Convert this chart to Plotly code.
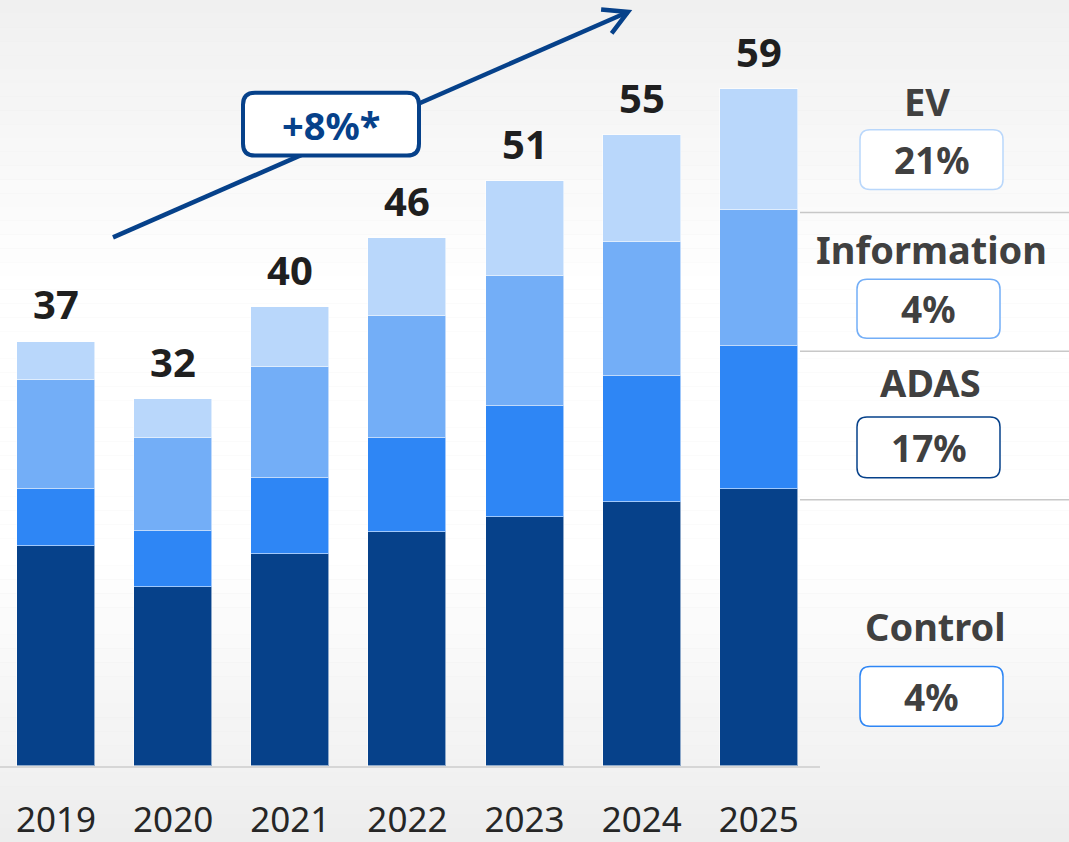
import plotly.graph_objects as go
import math

# ---------------- data ----------------
years = ["2019", "2020", "2021", "2022", "2023", "2024", "2025"]
control = [19.2, 15.6, 18.5, 20.4, 21.7, 23.0, 24.2]
adas = [5.0, 4.9, 6.6, 8.2, 9.7, 11.0, 12.4]
information = [9.5, 8.1, 9.7, 10.6, 11.3, 11.7, 11.9]
ev = [3.3, 3.4, 5.2, 6.8, 8.3, 9.3, 10.5]
totals = [37, 32, 40, 46, 51, 55, 59]
segments = ["EV", "Information", "ADAS", "Control"]
cagr = ["21%", "4%", "17%", "4%"]
overall_cagr = "+8%*"

# ---------------- styles ----------------
W, H = 1069, 842
HT = 830  # effective photographed height of the page
NAVY = "#06418A"
C_CONTROL = "#06418A"
C_ADAS = "#2E86F5"
C_INFO = "#73AEF7"
C_EV = "#B9D7FB"
FONT = "Noto Sans"


def X(px):
    return px / W


def Y(py):
    return 1 - py / HT


def rr_path(x0, y0, x1, y1, r):
    pts = [
        f"M {X(x0 + r)},{Y(y0)}",
        f"L {X(x1 - r)},{Y(y0)}",
        f"Q {X(x1)},{Y(y0)} {X(x1)},{Y(y0 + r)}",
        f"L {X(x1)},{Y(y1 - r)}",
        f"Q {X(x1)},{Y(y1)} {X(x1 - r)},{Y(y1)}",
        f"L {X(x0 + r)},{Y(y1)}",
        f"Q {X(x0)},{Y(y1)} {X(x0)},{Y(y1 - r)}",
        f"L {X(x0)},{Y(y0 + r)}",
        f"Q {X(x0)},{Y(y0)} {X(x0 + r)},{Y(y0)}",
        "Z",
    ]
    return " ".join(pts)


fig = go.Figure()
for name, vals, col in [("Control", control, C_CONTROL), ("ADAS", adas, C_ADAS),
                        ("Information", information, C_INFO), ("EV", ev, C_EV)]:
    fig.add_trace(go.Bar(
        x=years, y=vals, name=name, width=0.666,
        marker=dict(color=col, line=dict(color="rgba(255,255,255,0.55)", width=1)),
        hoverinfo="x+y+name",
    ))

shapes = []
# background gradient bands
def lerp(a, b, t):
    return int(round(a + (b - a) * t))

bands = 60
for i in range(bands):
    y0 = i * HT / bands
    y1 = (i + 1) * HT / bands
    ym = (y0 + y1) / 2
    if ym < 290:
        t = ym / 290
        v = lerp(240, 255, t)
    elif ym < 560:
        v = 255
    else:
        t = (ym - 560) / (842 - 560)
        v = lerp(255, 237, t)
    shapes.append(dict(type="rect", xref="paper", yref="paper", x0=0, x1=1,
                       y0=Y(y1), y1=Y(y0), fillcolor=f"rgb({v},{v},{v})",
                       line=dict(width=0), layer="below"))

# right separators
for sy in [213, 352, 501]:
    shapes.append(dict(type="line", xref="paper", yref="paper", x0=X(800), x1=1,
                       y0=Y(sy), y1=Y(sy), line=dict(color="#c8c8c8", width=1.5)))

# growth arrow
ax0, ay0, ax1, ay1 = 113, 238, 628, 12
shapes.append(dict(type="line", xref="paper", yref="paper", x0=X(ax0), y0=Y(ay0),
                   x1=X(ax1), y1=Y(ay1), line=dict(color=NAVY, width=4.5)))
ang = math.atan2(ay0 - ay1, ax0 - ax1)
arm = 27
a1 = (ax1 + arm * math.cos(ang + math.radians(29)), ay1 + arm * math.sin(ang + math.radians(29)))
a2 = (ax1 + arm * math.cos(ang - math.radians(29)), ay1 + arm * math.sin(ang - math.radians(29)))
shapes.append(dict(type="path", xref="paper", yref="paper",
                   path=f"M {X(a1[0])},{Y(a1[1])} L {X(ax1)},{Y(ay1)} L {X(a2[0])},{Y(a2[1])}",
                   line=dict(color=NAVY, width=4.5)))
# growth box
shapes.append(dict(type="path", xref="paper", yref="paper", path=rr_path(243, 93, 419, 156, 12),
                   fillcolor="white", line=dict(color=NAVY, width=4)))

# right-side boxes
box_specs = [
    (860, 130, 1003, 190, "#B9D7FB"),
    (857, 280, 1000, 339, "#73AEF7"),
    (857, 418, 1000, 479, NAVY),
    (860, 668, 1003, 728, "#2E86F5"),
]
for (x0, y0, x1, y1, col) in box_specs:
    shapes.append(dict(type="path", xref="paper", yref="paper", path=rr_path(x0, y0, x1, y1, 10),
                       fillcolor="white", line=dict(color=col, width=1.5)))

annotations = []
# totals
for i, tot in enumerate(totals):
    annotations.append(dict(x=i, y=tot, xref="x", yref="y", text=f"<b>{tot}</b>",
                            showarrow=False, yshift=38, yanchor="middle", xanchor="center",
                            font=dict(family=FONT, size=40, color="#1f1f1f")))
# growth label
annotations.append(dict(x=X(331), y=Y(125), xref="paper", yref="paper", text=f"<b>{overall_cagr}</b>",
                        showarrow=False, xanchor="center", yanchor="middle",
                        font=dict(family=FONT, size=38, color=NAVY)))
# right labels
label_pos = [(927, 101), (931, 250), (930, 383), (935, 628)]
for (lx, ly), name, (x0, y0, x1, y1, _), pct in zip(label_pos, segments, box_specs, cagr):
    annotations.append(dict(x=X(lx), y=Y(ly), xref="paper", yref="paper", text=f"<b>{name}</b>",
                            showarrow=False, xanchor="center", yanchor="middle",
                            font=dict(family=FONT, size=38, color="#404040")))
    annotations.append(dict(x=X((x0 + x1) / 2), y=Y((y0 + y1) / 2), xref="paper", yref="paper",
                            text=f"<b>{pct}</b>", showarrow=False, xanchor="center", yanchor="middle",
                            font=dict(family=FONT, size=37, color="#404040")))

fig.update_layout(
    width=W, height=H, autosize=False,
    margin=dict(l=0, r=0, t=0, b=0, pad=0),
    barmode="stack", bargap=0,
    showlegend=False,
    paper_bgcolor="rgb(237,237,237)",
    plot_bgcolor="rgba(0,0,0,0)",
    shapes=shapes,
    annotations=annotations,
    xaxis=dict(domain=[0, 820 / W], range=[-0.478, 6.522], type="category",
               showline=True, linecolor="#d6d6d6", linewidth=1.5,
               ticks="outside", ticklen=22, tickcolor="rgba(0,0,0,0)",
               tickfont=dict(family=FONT, size=35, color="#262626"),
               showgrid=False, zeroline=False, fixedrange=True),
    yaxis=dict(domain=[Y(768), 1], range=[0, 768 / 11.5], visible=False,
               showgrid=False, zeroline=False, fixedrange=True),
)

post = (
    "document.documentElement.style.margin='0';"
    "document.documentElement.style.background='rgb(237,237,237)';"
    "document.body.style.margin='0';document.body.style.padding='0';"
    "document.body.style.background='rgb(237,237,237)';"
    "document.body.style.overflow='hidden';"
)
fig.write_html("out.html", config={"displayModeBar": False, "responsive": False},
               post_script=post)
